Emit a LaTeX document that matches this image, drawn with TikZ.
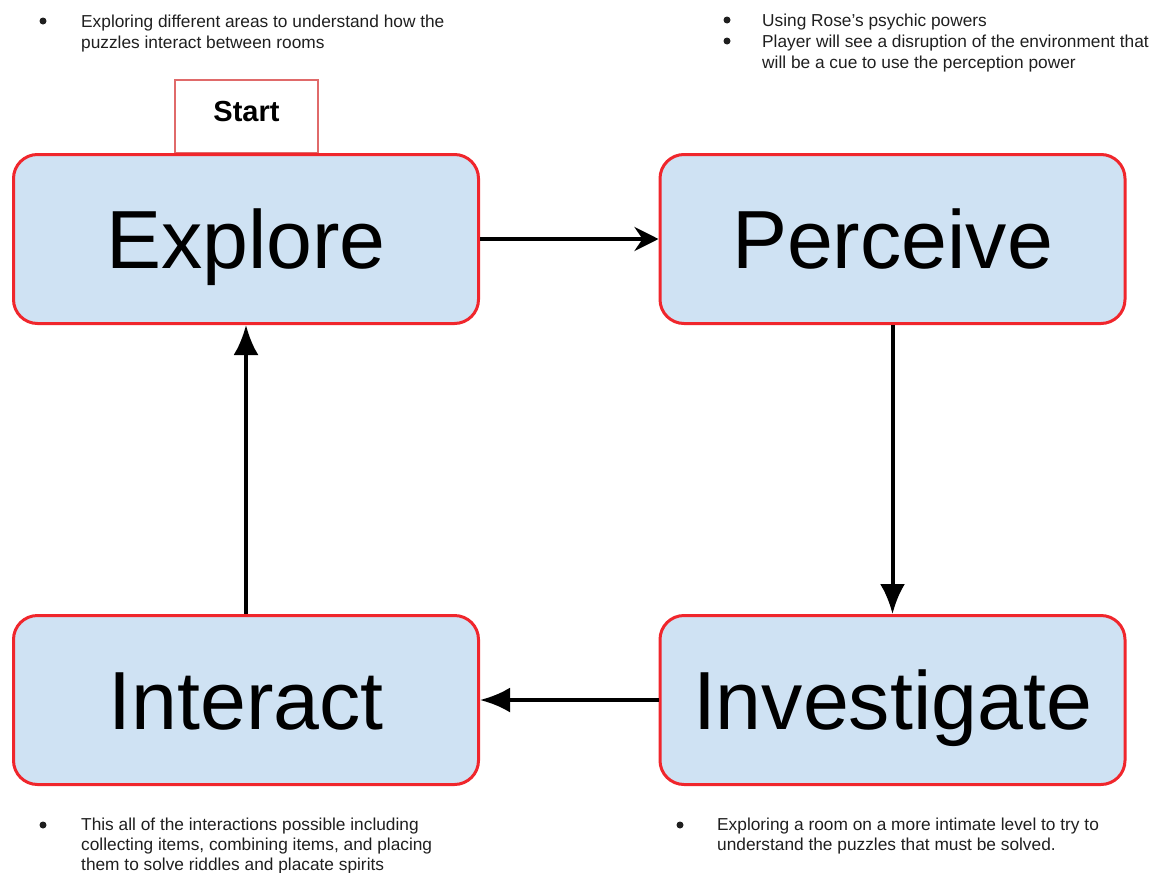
\documentclass[tikz,border=0pt]{standalone}
\usepackage{fontspec}
\setmainfont{Liberation Sans}
\usetikzlibrary{arrows.meta,positioning}
\definecolor{stageblue}{HTML}{CFE2F3}
\definecolor{stagered}{HTML}{F0262C}
\definecolor{tabred}{HTML}{E06A6A}
\tikzset{
    stage/.style={draw=stagered, line width=3pt, fill=stageblue, rounded corners=24pt,
        minimum width=465pt, minimum height=169pt, inner sep=0pt,
        text height=59pt, text depth=0pt, font=\fontsize{82.5}{82.5}\selectfont},
    starttab/.style={draw=tabred, line width=1.2pt, fill=white, minimum width=143pt,
        minimum height=73pt, inner sep=0pt, text depth=10pt,
        font=\bfseries\fontsize{29}{29}\selectfont},
    flow/.style={line width=4pt, -{Latex[length=30pt,width=25pt]}},
    note/.style={anchor=base west, inner sep=0pt, text=black!88,
        font=\fontsize{17.3}{21}\selectfont},
    dot/.style={circle, fill=black!88, inner sep=0pt, minimum size=7pt},
}
\begin{document}
\begin{tikzpicture}[x=1pt,y=-1pt]
\useasboundingbox (0,0) rectangle (1152,873);

% start tab sits behind the first stage
\node[starttab] (start) at (246.5,116.5) {Start};

\node[stage] (explore) at (246,239) {Explore};
\node[stage] (perceive) at (892.5,239) {Perceive};
\node[stage] (interact) at (246,700) {Interact};
\node[stage] (investigate) at (892.5,700) {Investigate};

\draw[flow,-{Stealth[length=24pt,width=24pt,inset=8pt]}] (explore) -- (perceive);
\draw[flow] (perceive) -- (investigate);
\draw[flow] (investigate) -- (interact);
\draw[flow] (interact) -- (explore);

% notes
\node[dot] (b1) at (43,21) {};
\foreach \y/\t [count=\i] in {27/Exploring different areas to understand how the,
                              48/puzzles interact between rooms}
    \node[note] (explorenote\i) at (81,\y) {\t};

\node[dot] (b2) at (727,20) {};
\node[dot] (b3) at (727,41) {};
\foreach \y/\t [count=\i] in {26/Using Rose’s psychic powers,
                              47/Player will see a disruption of the environment that,
                              68/will be a cue to use the perception power}
    \node[note] (perceivenote\i) at (762,\y) {\t};

\node[dot] (b4) at (43,825) {};
\foreach \y/\t [count=\i] in {830/This all of the interactions possible including,
                              850/{collecting items, combining items, and placing},
                              870/them to solve riddles and placate spirits}
    \node[note] (interactnote\i) at (81,\y) {\t};

\node[dot] (b5) at (680,825) {};
\foreach \y/\t [count=\i] in {830/Exploring a room on a more intimate level to try to,
                              850/understand the puzzles that must be solved.}
    \node[note] (investigatenote\i) at (717,\y) {\t};
\end{tikzpicture}
\end{document}
